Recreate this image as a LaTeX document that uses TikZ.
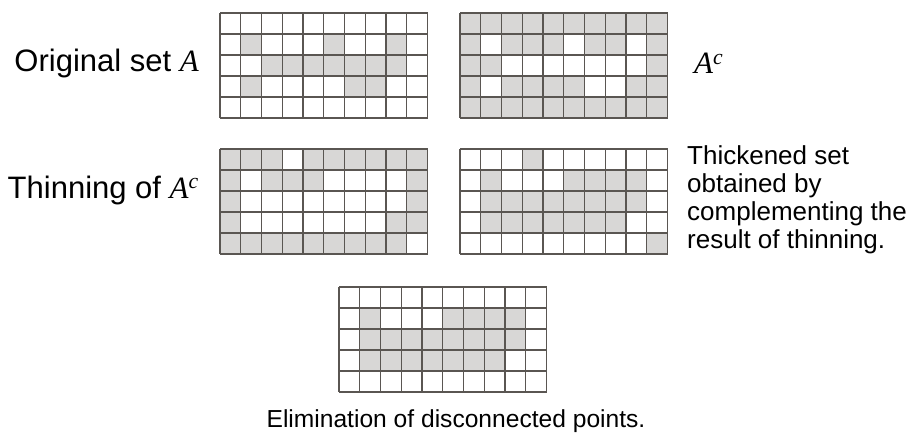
\documentclass[tikz,border=0pt]{standalone}
\usepackage{fontspec}
\setmainfont{Liberation Sans}
\newfontfamily\tmsfont{Liberation Serif}
\newcommand{\setA}{{\tmsfont\itshape A}}
\newcommand{\setAc}{{\tmsfont\itshape A\textsuperscript{c}}}

\definecolor{cellgray}{RGB}{216,215,214}
\definecolor{linegray}{RGB}{90,86,82}

% 10x5 grid: #1 origin, #2 base colour, #3 cell colour, #4 cells col/row
\newcommand{\cellgrid}[4]{%
  \begin{scope}[shift={(#1)}, x=20.75pt, y=-21pt]
    \fill[#2] (0,0) rectangle (10,5);
    \foreach \c/\r in {#4}
      \fill[#3] (\c-1,\r-1) rectangle (\c,\r);
    \foreach \i in {0,...,10}
      \draw[gridline] (\i,0) -- (\i,5);
    \foreach \j in {0,...,5}
      \draw[gridline] (0,\j) -- (10,\j);
  \end{scope}}

\begin{document}
\begin{tikzpicture}[
    x=1pt, y=-1pt,
    gridline/.style={draw=linegray, line width=1.3pt},
    biglabel/.style={font=\fontsize{31}{36}\selectfont, inner sep=0pt},
    sidelabel/.style={font=\fontsize{26}{28}\selectfont, inner sep=0pt, align=left},
    caption/.style={font=\fontsize{24.6}{28}\selectfont, inner sep=0pt}
  ]
  \useasboundingbox (0,0) rectangle (912,442);

  % original set and its complement
  \cellgrid{220,13}{white}{cellgray}{2/2,6/2,9/2,3/3,4/3,5/3,6/3,7/3,8/3,9/3,2/4,7/4,8/4}
  \cellgrid{460,13}{cellgray}{white}{2/2,6/2,9/2,3/3,4/3,5/3,6/3,7/3,8/3,9/3,2/4,7/4,8/4}
  % thinning and thickened set
  \cellgrid{220,149}{cellgray}{white}{4/1,2/2,6/2,7/2,8/2,9/2,2/3,3/3,4/3,5/3,6/3,7/3,8/3,9/3,2/4,3/4,4/4,5/4,6/4,7/4,8/4,10/5}
  \cellgrid{460,149}{white}{cellgray}{4/1,2/2,6/2,7/2,8/2,9/2,2/3,3/3,4/3,5/3,6/3,7/3,8/3,9/3,2/4,3/4,4/4,5/4,6/4,7/4,8/4,10/5}
  % result
  \cellgrid{339,287}{white}{cellgray}{2/2,6/2,7/2,8/2,9/2,2/3,3/3,4/3,5/3,6/3,7/3,8/3,9/3,2/4,3/4,4/4,5/4,6/4,7/4,8/4}

  \node[biglabel, anchor=east] (orig) at (199,63) {Original set \setA};
  \node[biglabel, anchor=west] (compl) at (694,63) {\setAc};
  \node[biglabel, anchor=east] (thin) at (199,190) {Thinning of \setAc};
  \node[sidelabel, anchor=west] (thick) at (687,200)
    {Thickened set\\obtained by\\complementing the\\result of thinning.};
  \node[caption] (elim) at (456,421) {Elimination of disconnected points.};
\end{tikzpicture}
\end{document}
